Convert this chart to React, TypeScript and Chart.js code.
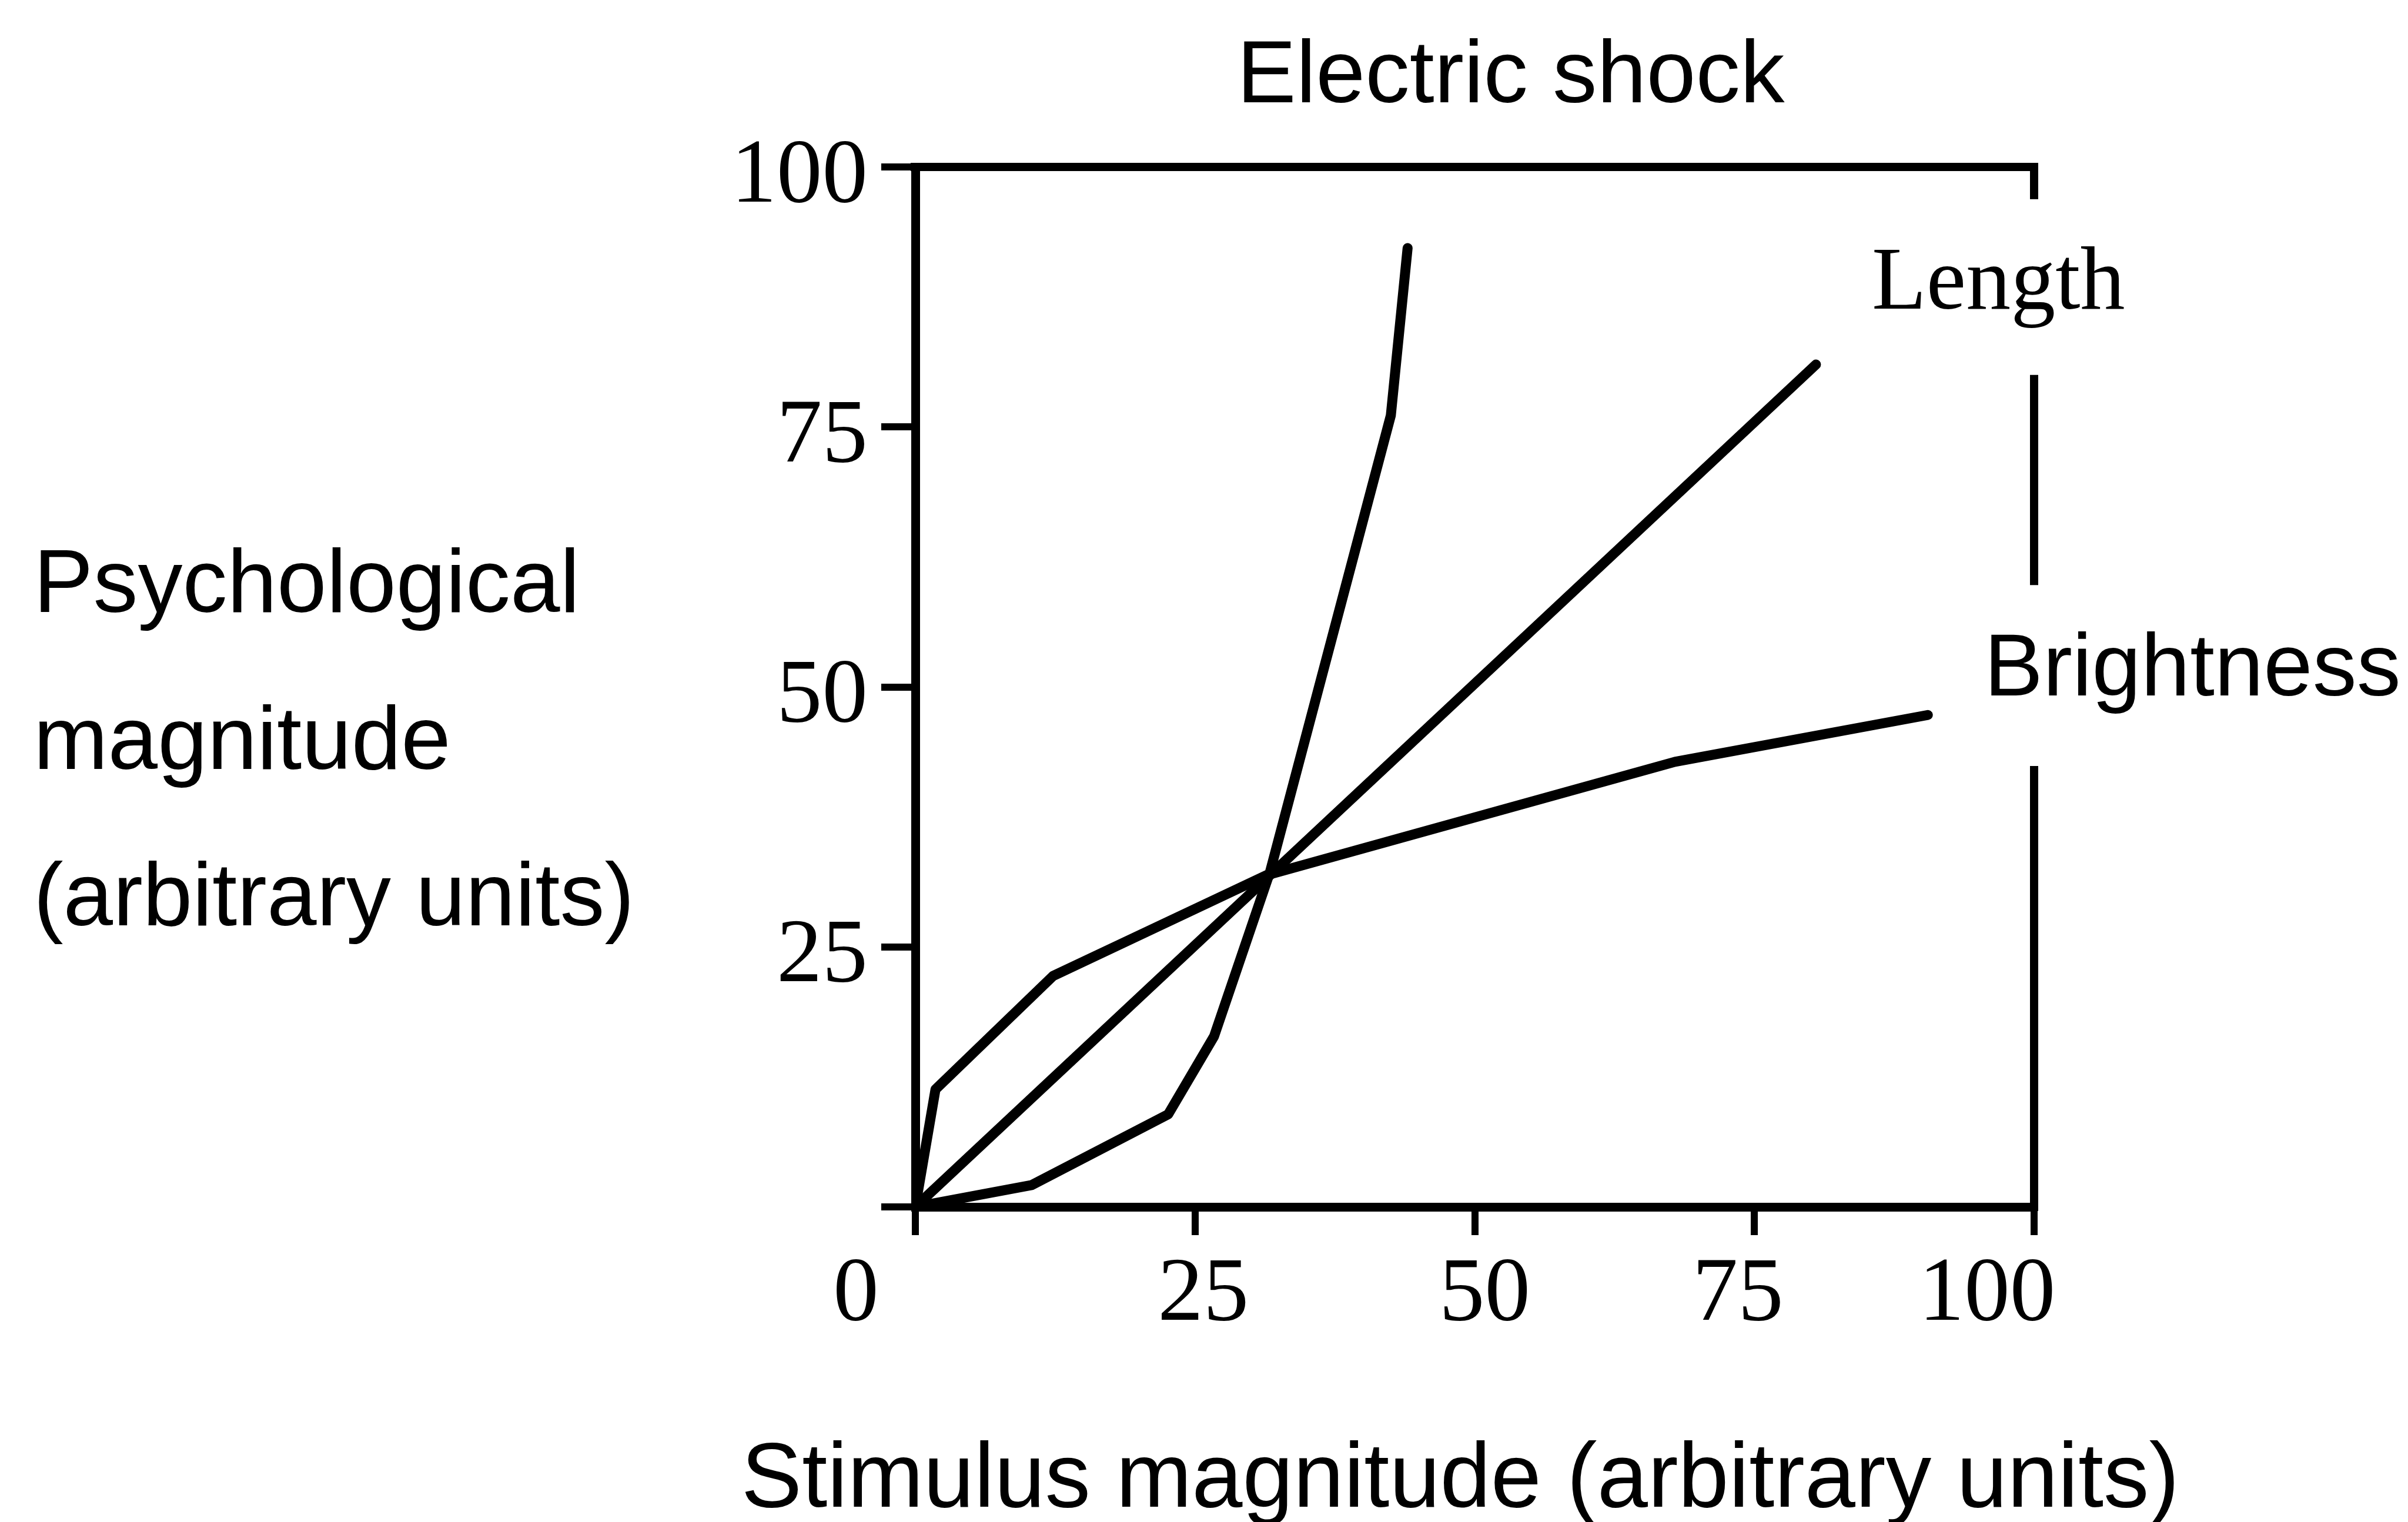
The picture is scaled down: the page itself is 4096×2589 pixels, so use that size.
import React, { useEffect, useRef } from 'react';
import { Chart, registerables } from 'chart.js';

Chart.register(...registerables);

// ---------- data ----------
const xTickValues = [0, 25, 50, 75, 100];
const xTickLabels = ['0', '25', '50', '75', '100'];
const yTickValues = [0, 25, 50, 75, 100];
const yTickLabels = ['', '25', '50', '75', '100'];

const shockX = [0, 10.4, 22.6, 26.7, 31.7, 42.5, 44.0];
const shockY = [0, 2.1, 8.9, 16.4, 32.2, 76.1, 92.2];

const lengthX = [0, 80.5];
const lengthY = [0, 81];

const brightnessX = [0, 1.8, 12.3, 31.4, 67.9, 90.5];
const brightnessY = [0, 11.3, 22.2, 31.9, 42.8, 47.3];

const seriesNames = ['Electric shock', 'Length', 'Brightness'];
const yTitleLines = ['Psychological', 'magnitude', '(arbitrary units)'];
const xTitle = 'Stimulus magnitude (arbitrary units)';

// right frame line pieces (y ranges in data units), broken where labels sit
const rightFrameSegments = [
  [100, 96.9],
  [80.0, 59.8],
  [42.4, 0],
];

// ---------- layout / style ----------
const W = 4096;
const H = 2589;
const AREA = { left: 1557, right: 3460, top: 284, bottom: 2053 };
const xLabelShift = [-101, 14, 17, -28, -80];
const SANS = '"Liberation Sans", Arial, sans-serif';
const SERIF = '"Liberation Serif", "Times New Roman", serif';

const pts = (xs: number[], ys: number[]) => xs.map((x, i) => ({ x, y: ys[i] }));

const framePlugin = {
  id: 'framePlugin',
  beforeDraw(chart: any) {
    const ctx = chart.ctx;
    ctx.save();
    ctx.fillStyle = '#fff';
    ctx.fillRect(0, 0, chart.width, chart.height);
    ctx.restore();
  },
  afterDraw(chart: any) {
    const ctx = chart.ctx;
    const xs = chart.scales.x;
    const ys = chart.scales.y;
    const { left, right, top, bottom } = chart.chartArea;
    ctx.save();
    ctx.strokeStyle = '#000';
    ctx.fillStyle = '#000';
    // top frame line
    ctx.lineWidth = 14;
    ctx.lineCap = 'butt';
    ctx.beginPath();
    ctx.moveTo(left - 8, top);
    ctx.lineTo(right + 7, top);
    ctx.stroke();
    // right frame pieces
    const rx = xs.getPixelForValue(100);
    ctx.lineWidth = 14;
    rightFrameSegments.forEach(([a, b]) => {
      ctx.beginPath();
      ctx.moveTo(rx, ys.getPixelForValue(a) - (a === 100 ? 7 : 0));
      ctx.lineTo(rx, ys.getPixelForValue(b) + (b === 0 ? 7 : 0));
      ctx.stroke();
    });
    // x tick labels
    ctx.font = `155px ${SERIF}`;
    ctx.textAlign = 'center';
    ctx.textBaseline = 'alphabetic';
    xTickValues.forEach((v, i) => {
      ctx.fillText(xTickLabels[i], xs.getPixelForValue(v) + xLabelShift[i], bottom + 192);
    });
    // title (Electric shock)
    ctx.font = `151px ${SANS}`;
    ctx.textAlign = 'left';
    ctx.fillText(seriesNames[0], 2104, 174);
    // Length label
    ctx.font = `152px ${SERIF}`;
    ctx.fillText(seriesNames[1], 3184, 525);
    // Brightness label
    ctx.font = `150px ${SANS}`;
    ctx.fillText(seriesNames[2], 3375, 1183);
    // y title
    ctx.font = `152px ${SANS}`;
    const baselines = [1041, 1308, 1574];
    yTitleLines.forEach((t, i) => ctx.fillText(t, 57, baselines[i]));
    // x title
    ctx.font = `155px ${SANS}`;
    ctx.textAlign = 'center';
    ctx.fillText(xTitle, 2484, 2563);
    ctx.restore();
  },
};

const lineStyle = {
  borderColor: '#000',
  borderWidth: 17,
  pointRadius: 0,
  pointHoverRadius: 0,
  fill: false,
  tension: 0,
  borderCapStyle: 'round' as const,
  borderJoinStyle: 'round' as const,
};

export default function App() {
  const ref = useRef<HTMLCanvasElement>(null);

  useEffect(() => {
    if (!ref.current) return;
    const chart = new Chart(ref.current, {
      type: 'line',
      data: {
        datasets: [
          { label: seriesNames[0], data: pts(shockX, shockY), ...lineStyle },
          { label: seriesNames[1], data: pts(lengthX, lengthY), ...lineStyle },
          { label: seriesNames[2], data: pts(brightnessX, brightnessY), ...lineStyle },
        ],
      },
      options: {
        responsive: false,
        maintainAspectRatio: false,
        animation: false,
        devicePixelRatio: 1,
        layout: {
          padding: { top: AREA.top, right: W - AREA.right, left: 0, bottom: 0 },
        },
        plugins: {
          legend: { display: false },
          title: { display: false },
          tooltip: { enabled: false },
        },
        scales: {
          x: {
            type: 'linear',
            min: 0,
            max: 100,
            afterBuildTicks: (s: any) => {
              s.ticks = xTickValues.map((v) => ({ value: v }));
            },
            afterFit: (s: any) => {
              s.height = H - AREA.bottom;
            },
            border: { display: true, color: '#000', width: 15 },
            grid: {
              display: true,
              drawOnChartArea: false,
              drawTicks: true,
              tickLength: 48,
              lineWidth: 12,
              color: '#000',
            },
            ticks: { callback: () => '', font: { size: 10 } },
          },
          y: {
            type: 'linear',
            min: 0,
            max: 100,
            afterBuildTicks: (s: any) => {
              s.ticks = yTickValues.map((v) => ({ value: v }));
            },
            afterFit: (s: any) => {
              s.width = AREA.left;
            },
            border: { display: true, color: '#000', width: 15 },
            grid: {
              display: true,
              drawOnChartArea: false,
              drawTicks: true,
              tickLength: 58,
              lineWidth: 12,
              color: '#000',
            },
            ticks: {
              callback: (_v: any, i: number) => yTickLabels[i],
              font: { family: 'Liberation Serif', size: 155 },
              color: '#000',
              padding: 23,
              labelOffset: 18,
            },
          },
        },
      },
      plugins: [framePlugin],
    });
    return () => chart.destroy();
  }, []);

  return (
    <div style={{ position: 'fixed', left: 0, top: 0, width: W, height: H, background: '#fff' }}>
      <canvas ref={ref} width={W} height={H} style={{ display: 'block', width: W, height: H }} />
    </div>
  );
}
